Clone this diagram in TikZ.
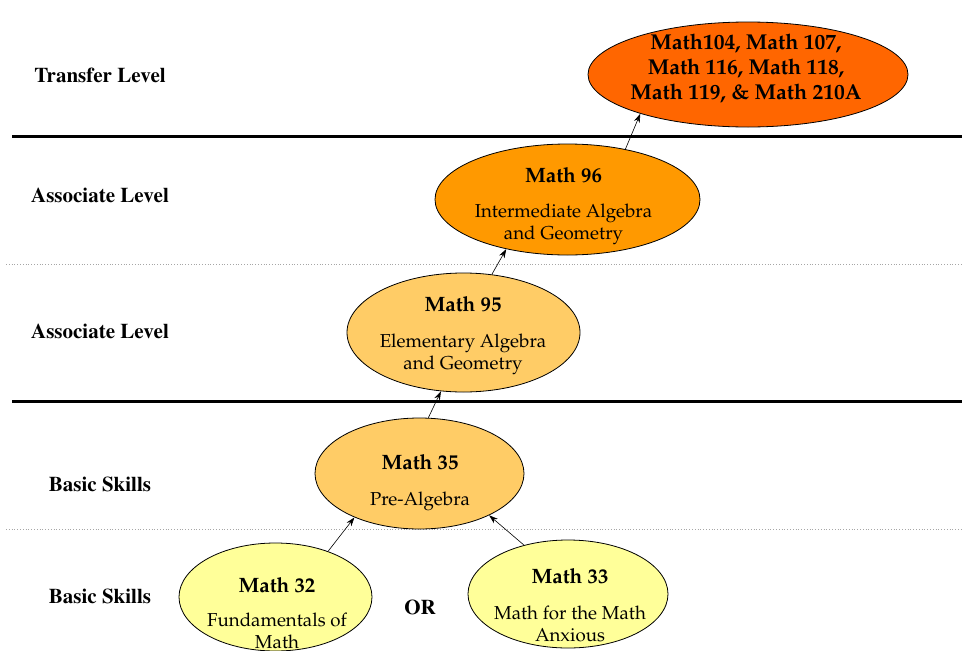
\documentclass[tikz,border=0pt]{standalone}
\usepackage[T1]{fontenc}
\usepackage{mathpazo}
\usetikzlibrary{shapes.geometric,arrows.meta}
\definecolor{ctop}{HTML}{FF6600}
\definecolor{cmid}{HTML}{FF9900}
\definecolor{clow}{HTML}{FFCC66}
\definecolor{cbase}{HTML}{FFFF99}
\newcommand{\crsttl}[1]{{\bfseries\fontsize{20.8}{22}\selectfont #1}}
\tikzset{
  lvl/.style={font=\fontfamily{ptm}\bfseries\fontsize{21}{24}\selectfont, anchor=center, inner sep=0pt},
  course/.style={ellipse, draw=black, line width=0.8pt, inner sep=0pt},
  ctext/.style={align=center, inner sep=0pt, font=\fontsize{18.7}{22}\selectfont},
  arr/.style={-{Stealth[length=9pt,width=6pt]}, line width=0.6pt},
  thickrule/.style={line width=3pt},
  dotrule/.style={gray!70, dotted, line width=0.8pt}
}
\begin{document}
\begin{tikzpicture}[x=1pt,y=-1pt]
\useasboundingbox (0,0) rectangle (962,651);
\clip (0,0) rectangle (962,651);
% rules
\draw[thickrule] (12,136) -- (962,136);
\draw[thickrule] (12,401) -- (962,401);
\draw[dotrule] (6,264) -- (962,264);
\draw[dotrule] (6,529) -- (962,529);
% level labels
\node[lvl] (l1) at (100,75) {Transfer Level};
\node[lvl] (l2) at (100,195) {Associate Level};
\node[lvl] (l3) at (100,331) {Associate Level};
\node[lvl] (l4) at (100,484) {Basic Skills};
\node[lvl] (l5) at (100,596) {Basic Skills};
% course ellipses
\node[course, fill=ctop, minimum width=320pt, minimum height=105pt] (top) at (748,74.5) {};
\node[course, fill=cmid, minimum width=265pt, minimum height=111pt] (m96) at (567.5,199.5) {};
\node[course, fill=clow, minimum width=233pt, minimum height=119pt] (m95) at (463.5,332.5) {};
\node[course, fill=clow, minimum width=209pt, minimum height=111pt] (m35) at (419.5,473.5) {};
\node[course, fill=cbase, minimum width=193pt, minimum height=108pt] (m32) at (275.5,597) {};
\node[course, fill=cbase, minimum width=200pt, minimum height=108pt] (m33) at (568,594) {};
% course texts
\node[ctext, font=\bfseries\fontsize{21.5}{25}\selectfont] (topt) at (746,68)
  {Math104, Math 107,\\Math 116, Math 118,\\Math 119, \& Math 210A};
\node[ctext] (m96t) at (563.5,206.5) {\crsttl{Math 96}\\[13pt]Intermediate Algebra\\and Geometry};
\node[ctext] (m95t) at (463,336) {\crsttl{Math 95}\\[14pt]Elementary Algebra\\and Geometry};
\node[ctext] (m35t) at (420,482.5) {\crsttl{Math 35}\\[14pt]Pre-Algebra};
\node[ctext] (m32t) at (277,613) {\crsttl{Math 32}\\[12pt]Fundamentals of\\Math};
\node[ctext] (m33t) at (570,605) {\crsttl{Math 33}\\[14pt]Math for the Math\\Anxious};
\node[lvl] (or) at (420,607) {OR};
% arrows
\draw[arr] (m32.41.5) -- (m35.214.6);
\draw[arr] (m33.132.6) -- (m35.329.4);
\draw[arr] (m35.81.4) -- (m95.249);
\draw[arr] (m95.64) -- (m96.219.3);
\draw[arr] (m96.41.6) -- (top.200.6);
\end{tikzpicture}
\end{document}
